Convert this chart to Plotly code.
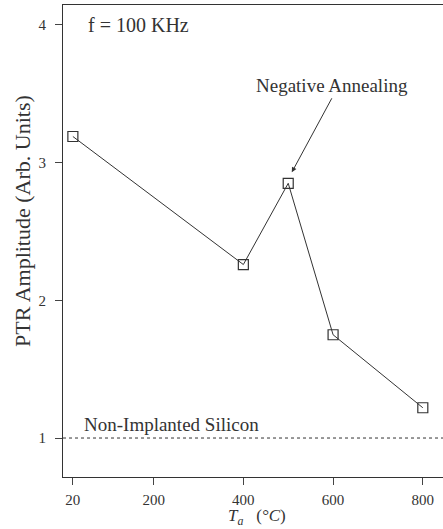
import plotly.graph_objects as go

temps = [20, 400, 500, 600, 800]
amplitude = [3.19, 2.26, 2.85, 1.75, 1.22]
ref_level = 1.0
x_ticks = [20, 200, 400, 600, 800]
y_ticks = [1, 2, 3, 4]

ink = "#333333"
font = "Liberation Serif"

fig = go.Figure()
fig.add_trace(go.Scatter(
    x=temps, y=amplitude, mode="lines+markers",
    line=dict(color=ink, width=1),
    marker=dict(symbol="square-open", size=10, color=ink, line=dict(width=1.2)),
    showlegend=False, cliponaxis=False))
fig.add_trace(go.Scatter(
    x=[-2, 845], y=[ref_level, ref_level], mode="lines",
    line=dict(color=ink, width=1, dash="3px,3px"), showlegend=False))

fig.update_layout(
    width=443, height=529,
    margin=dict(l=63, r=0, t=5, b=52),
    plot_bgcolor="white", paper_bgcolor="white",
    font=dict(family=font, color=ink, size=15),
    xaxis=dict(range=[-2, 845], tickvals=x_ticks, ticks="outside", ticklen=7,
               showgrid=False, zeroline=False, showline=True, linecolor=ink,
               linewidth=1.2, mirror=True, automargin=False,
               ticklabelstandoff=2),
    yaxis=dict(range=[0.717, 4.145], tickvals=y_ticks, ticks="outside", ticklen=7,
               showgrid=False, zeroline=False, showline=True, linecolor=ink,
               linewidth=1.2, automargin=False, ticklabelstandoff=6),
    annotations=[
        dict(x=22, xref="paper", xanchor="center", y=221, yref="paper",
             yanchor="middle", text="PTR Amplitude (Arb. Units)", textangle=-90,
             showarrow=False, font=dict(size=22)),
        dict(x=0.06, xref="paper", y=4.0, yref="y", text="f = 100 KHz",
             showarrow=False, xanchor="left", yanchor="middle",
             font=dict(size=20)),
        dict(x=0.05, xref="paper", y=1.1, yref="y", text="Non-Implanted Silicon",
             showarrow=False, xanchor="left", yanchor="middle",
             font=dict(size=19)),
    ],
)

# place axis-title annotations in pixel-equivalent paper coords
plot_w = 443 - 63
plot_h = 529 - 5 - 52
ann = list(fig.layout.annotations)
ann[0].update(x=(22 - 63) / plot_w, y=(529 - 52 - 221) / plot_h)
fig.layout.annotations = ann

fig.add_annotation(x=(257 - 63) / plot_w, xref="paper", y=-(517 - 477) / plot_h,
                   yref="paper", text="<i>T<sub>a</sub></i>   (<i>°C</i>)",
                   showarrow=False, xanchor="center", yanchor="middle",
                   font=dict(size=17))

fig.add_annotation(x=508, y=2.93, xref="x", yref="y",
                   text="Negative Annealing", showarrow=True,
                   arrowhead=2, arrowsize=1, arrowwidth=1, arrowcolor=ink,
                   ax=40, ay=-74, font=dict(size=19),
                   yanchor="bottom")

fig.write_html("out.html", config={"displayModeBar": False},
               post_script="document.body.style.margin='0';"
                           "document.body.style.overflow='hidden';")
